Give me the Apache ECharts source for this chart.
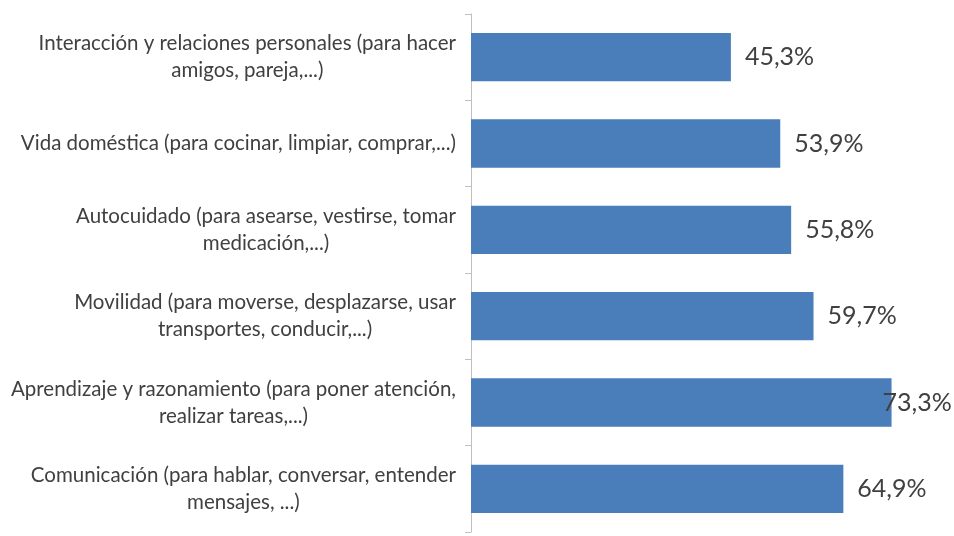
<!DOCTYPE html>
<html>
<head>
<meta charset="utf-8">
<script src="https://cdn.jsdelivr.net/npm/echarts@6/dist/echarts.min.js"></script>
<style>
html,body{margin:0;padding:0;background:#fff;}
#chart{width:954px;height:536px;}
</style>
</head>
<body>
<div id="chart"></div>
<script>
const categories = [
  "Interacción y relaciones personales (para hacer\namigos, pareja,...)",
  "Vida doméstica (para cocinar, limpiar, comprar,...)",
  "Autocuidado (para asearse, vestirse, tomar\nmedicación,...)",
  "Movilidad (para moverse, desplazarse, usar\ntransportes, conducir,...)",
  "Aprendizaje y razonamiento (para poner atención,\nrealizar tareas,...)",
  "Comunicación (para hablar, conversar, entender\nmensajes, ...)"
];
const values = [45.3, 53.9, 55.8, 59.7, 73.3, 64.9];

const chart = echarts.init(document.getElementById('chart'), null, {renderer: 'canvas'});
const maxIdx = values.indexOf(Math.max(...values));
const seriesData = values.map((v, i) => {
  const d = {value: v};
  if (i === maxIdx) d.label = {distance: -9};
  return d;
});

chart.setOption({
  animation: false,
  backgroundColor: '#ffffff',
  grid: {left: 471, right: 24, top: 14, bottom: 4, containLabel: false},
  xAxis: {
    type: 'value', min: 0, max: 80, show: false
  },
  yAxis: {
    type: 'category',
    data: categories,
    inverse: true,
    axisLine: {show: true, lineStyle: {color: '#bfbfbf', width: 1}},
    axisTick: {show: true, length: 6, lineStyle: {color: '#bfbfbf'}},
    splitLine: {show: false},
    axisLabel: {
      margin: 15,
      color: '#404040',
      fontFamily: 'Lato',
      fontSize: 20.5,
      lineHeight: 27,
      formatter: function (v) {
        return v.split('\n').map(l => '{c|' + l + '}').join('\n');
      },
      rich: {
        c: {align: 'center', color: '#404040', fontFamily: 'Lato', fontSize: 20.5, lineHeight: 27}
      }
    }
  },
  series: [{
    type: 'bar',
    data: seriesData,
    barWidth: '56%',
    itemStyle: {color: '#4A7EBB'},
    label: {
      show: true,
      position: 'right',
      distance: 14,
      color: '#404040',
      fontFamily: 'Lato',
      fontSize: 25,
      formatter: p => p.value.toFixed(1).replace('.', ',') + '%'
    }
  }]
});
</script>
</body>
</html>
